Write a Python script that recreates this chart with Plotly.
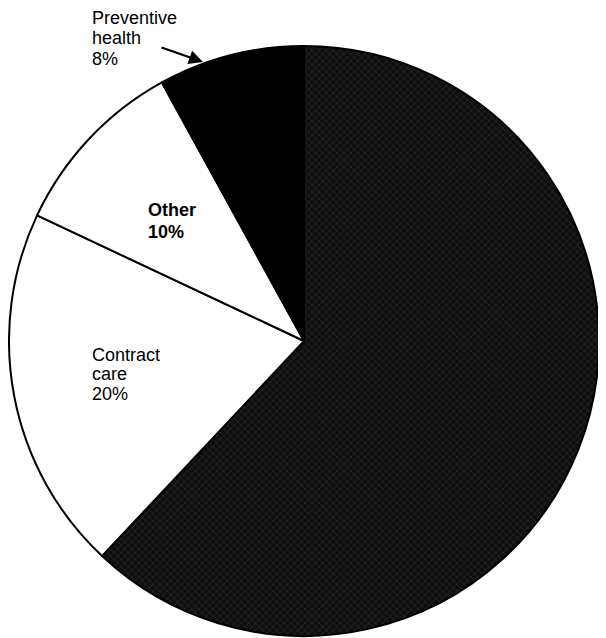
import plotly.graph_objects as go

W, H = 606, 638

# Data (listed clockwise from 12 o'clock)
categories = ["Remaining", "Contract care", "Other", "Preventive health"]
shares = [62, 20, 10, 8]
slice_colors = ["#161616", "#ffffff", "#ffffff", "#000000"]

# label text lines
prev_lines = ["Preventive", "health", "8%"]
other_lines = ["<b>Other</b>", "<b>10%</b>"]
contract_lines = ["Contract", "care", "20%"]

fig = go.Figure(
    go.Pie(
        labels=categories,
        values=shares,
        sort=False,
        direction="clockwise",
        rotation=0,
        textinfo="none",
        hoverinfo="label+percent",
        marker=dict(
            colors=slice_colors,
            line=dict(color="#000000", width=2),
            pattern=dict(
                shape=["x", "", "", ""],
                fgcolor="#444444",
                bgcolor=["#0e0e0e", "#ffffff", "#ffffff", "#000000"],
                size=5,
                solidity=0.15,
                fillmode="replace",
            ),
        ),
        domain=dict(x=[1 / W, 591 / W], y=[1 - 628 / H, 1 - 38 / H]),
        showlegend=False,
    )
)

font = dict(family="Liberation Sans, Arial, sans-serif", size=18, color="#000")


def px(x):
    return x / W


def py(y):
    return 1 - y / H


anns = []


def add_lines(lines, x_left, baselines):
    for t, b in zip(lines, baselines):
        anns.append(
            dict(
                x=px(x_left - 8), y=py(b - 1), xref="paper", yref="paper",
                text=t, showarrow=False, xanchor="left", yanchor="bottom",
                font=font,
            )
        )


add_lines(prev_lines, 90, [23, 43, 64])
add_lines(other_lines, 146, [215, 237])
add_lines(contract_lines, 90, [360, 379, 399])

# arrow for preventive health
anns.append(
    dict(
        x=px(195), y=py(54), xref="paper", yref="paper",
        ax=-43, ay=-15, text="", showarrow=True,
        arrowhead=2, arrowsize=1.4, arrowwidth=2, arrowcolor="#000",
    )
)

fig.update_layout(
    width=W, height=H,
    margin=dict(l=0, r=0, t=0, b=0),
    paper_bgcolor="#ffffff",
    plot_bgcolor="#ffffff",
    annotations=anns,
)

fig.write_html("out.html")
